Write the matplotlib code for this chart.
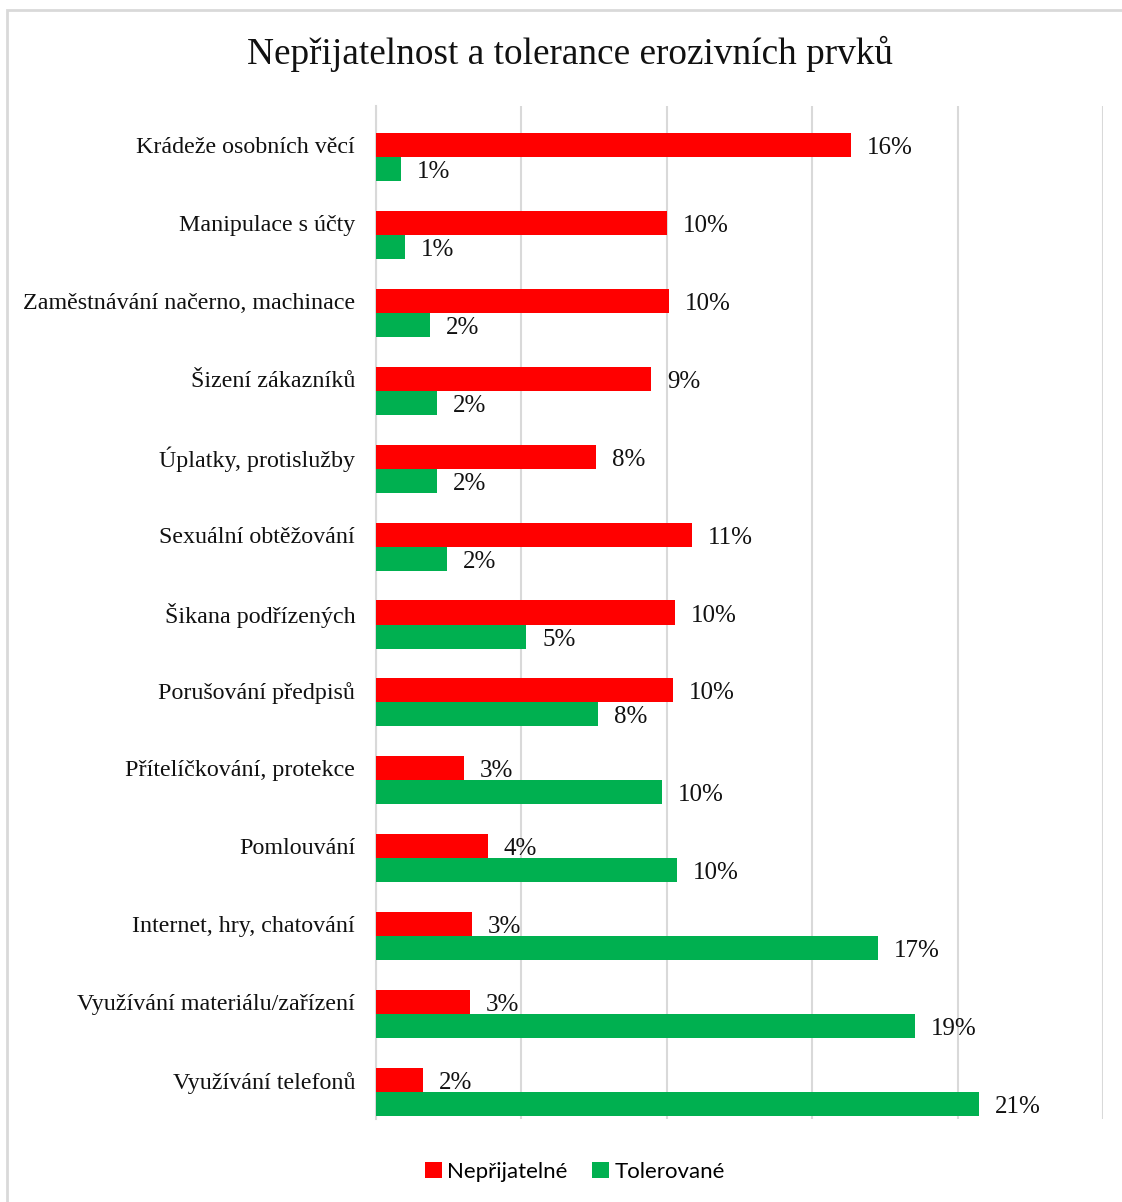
import numpy as np
import matplotlib.pyplot as plt
from matplotlib.patches import Patch, Rectangle

# Categories, top to bottom
categories = [
    'Krádeže osobních věcí',
    'Manipulace s účty',
    'Zaměstnávání načerno, machinace',
    'Šizení zákazníků',
    'Úplatky, protislužby',
    'Sexuální obtěžování',
    'Šikana podřízených',
    'Porušování předpisů',
    'Přítelíčkování, protekce',
    'Pomlouvání',
    'Internet, hry, chatování',
    'Využívání materiálu/zařízení',
    'Využívání telefonů',
]

# Shares in percent
neprijatelne = [16.33, 10.00, 10.08, 9.46, 7.57, 10.87, 10.28, 10.21, 3.03, 3.85, 3.30, 3.23, 1.62]
tolerovane = [0.86, 1.00, 1.86, 2.10, 2.10, 2.44, 5.16, 7.63, 9.83, 10.35, 17.26, 18.53, 20.74]

RED = '#FF0000'
GREEN = '#00B050'
GRID = '#D9D9D9'
serif = 'Liberation Serif'

fig = plt.figure(figsize=(11.22, 12.02), dpi=100)
ax = fig.add_axes([376 / 1122, 1 - 1119 / 1202, (1103 - 376) / 1122, (1119 - 106) / 1202])

y = np.arange(len(categories))
h = 0.308
ax.barh(y, neprijatelne, height=h, color=RED, zorder=3)
ax.barh(y + h, tolerovane, height=h, color=GREEN, zorder=3)

# value labels
for yi, v in zip(y, neprijatelne):
    ax.annotate(f'{v:.0f}%', (v, yi), xytext=(16, -3), textcoords='offset pixels',
                va='center', ha='left', fontsize=18, family=serif, color='#111111')
for yi, v in zip(y + h, tolerovane):
    ax.annotate(f'{v:.0f}%', (v, yi), xytext=(16, -3), textcoords='offset pixels',
                va='center', ha='left', fontsize=18, family=serif, color='#111111')

ax.set_xlim(0, 25)
ax.set_ylim(12.5, -0.5)
ax.set_xticks([0, 5, 10, 15, 20, 25])
ax.set_xticklabels([])
ax.tick_params(axis='x', length=0)
ax.grid(axis='x', color=GRID, linewidth=1.5, zorder=0)
ax.set_yticks(y)
ax.set_yticklabels(categories, family=serif, fontsize=17.3, color='#111111')
ax.tick_params(axis='y', length=0, pad=15)
for side in ['top', 'right', 'bottom']:
    ax.spines[side].set_visible(False)
ax.spines['left'].set_color(GRID)
ax.spines['left'].set_linewidth(1.5)

fig.text(570 / 1122, 1 - 54 / 1202, 'Nepřijatelnost a tolerance erozivních prvků',
         ha='center', va='center', family=serif, fontsize=26.8, color='#111111')

handles = [Patch(facecolor=RED, label='Nepřijatelné'), Patch(facecolor=GREEN, label='Tolerované')]
fig.legend(handles=handles, loc='center', bbox_to_anchor=(575 / 1122, 1 - 1172 / 1202), ncol=2,
           frameon=False, prop={'family': 'Lato', 'size': 16}, handlelength=0.75, handleheight=0.75,
           handletextpad=0.25, columnspacing=1.1)

# outer chart border
fig.patches.append(Rectangle((7 / 1122, -0.05), 1.2, 1 - 10 / 1202 + 0.05,
                             transform=fig.transFigure, fill=False, edgecolor=GRID, linewidth=2))

fig.savefig('out.png', dpi=100)
